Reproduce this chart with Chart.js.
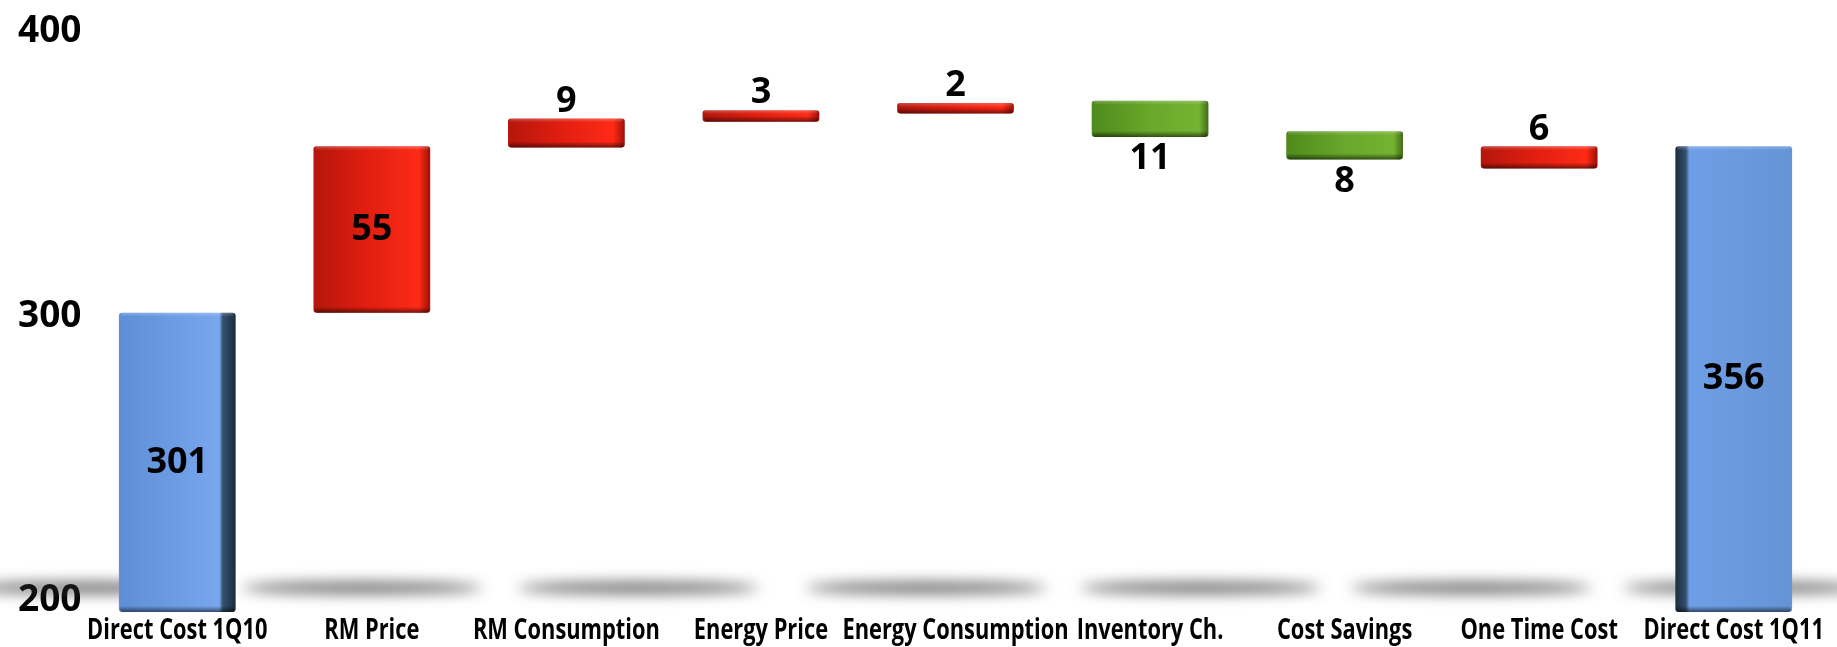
<!DOCTYPE html>
<html>
<head>
<meta charset="utf-8">
<script src="https://cdn.jsdelivr.net/npm/chart.js@4.4.1/dist/chart.umd.min.js"></script>
<style>
  html, body { margin: 0; padding: 0; background: #ffffff; }
  #wrap { width: 1837px; height: 647px; position: relative; }
</style>
</head>
<body>
<div id="wrap"><canvas id="waterfall"></canvas></div>
<script>
// Categorias e valores do gráfico em cascata
const categories = ['Direct Cost 1Q10', 'RM Price', 'RM Consumption', 'Energy Price', 'Energy Consumption', 'Inventory Ch.', 'Cost Savings', 'One Time Cost', 'Direct Cost 1Q11'];
const barStart = [196, 301.2, 359.3, 368.3, 371.2, 363.0, 355.1, 351.9, 196];
const barEnd = [301.2, 359.7, 369.5, 372.4, 374.9, 375.7, 365.0, 359.7, 359.7];
const valueLabels = ['301', '55', '9', '3', '2', '11', '8', '6', '356'];
const barKinds = ['total', 'up', 'up', 'up', 'up', 'down', 'down', 'up', 'total'];
const yTicks = [200, 300, 400];

// Sombras decorativas junto à base (em unidades de categoria)
const SHADOW_CENTERS = [-0.45, 0.95, 2.37, 3.85, 5.26, 6.65, 8.05];

const CAT_FONT = 'bold 28px "Open Sans", "Liberation Sans", sans-serif';
const CAT_SQUEEZE = 0.78; // as etiquetas do original são estreitas
const NUM_FONT = 'bold 36px "Open Sans", "Liberation Sans", sans-serif';

function barGradient(context) {
    const chart = context.chart;
    const i = context.dataIndex;
    const xs = chart.scales.x;
    if (!chart.chartArea || !xs) return '#6a9be0';
    const cx = xs.getPixelForValue(i);
    const half = (xs.width / categories.length) * 0.6 / 2;
    const g = chart.ctx.createLinearGradient(cx - half, 0, cx + half, 0);
    const kind = barKinds[i];
    if (kind === 'total') {
        if (i === 0) {
            g.addColorStop(0, '#5d8ed6');
            g.addColorStop(0.86, '#78a7ee');
            g.addColorStop(0.89, '#34506f');
            g.addColorStop(1, '#1d2b3d');
        } else {
            g.addColorStop(0, '#1d2b3d');
            g.addColorStop(0.09, '#34506f');
            g.addColorStop(0.12, '#6e9fe6');
            g.addColorStop(1, '#6593d6');
        }
    } else if (kind === 'up') {
        g.addColorStop(0, '#b5160c');
        g.addColorStop(0.45, '#e01e10');
        g.addColorStop(0.9, '#ff2a16');
        g.addColorStop(1, '#9c1008');
    } else {
        g.addColorStop(0, '#4f8a1c');
        g.addColorStop(0.5, '#68a82a');
        g.addColorStop(0.92, '#74b232');
        g.addColorStop(1, '#3f6a16');
    }
    return g;
}

const shadowPlugin = {
    id: 'groundShadow',
    beforeDatasetsDraw(chart) {
        const { ctx } = chart;
        const xs = chart.scales.x;
        const ys = chart.scales.y;
        const step = xs.width / categories.length;
        const y = ys.getPixelForValue(204.5);
        ctx.save();
        ctx.filter = 'blur(7px)';
        ctx.fillStyle = 'rgba(50,50,50,0.7)';
        SHADOW_CENTERS.forEach(c => {
            const x = xs.left + (c + 0.5) * step;
            ctx.beginPath();
            ctx.ellipse(x, y, step * 0.62, 6, 0, 0, Math.PI * 2);
            ctx.fill();
        });
        ctx.restore();
    }
};

const bevelAndLabels = {
    id: 'bevelAndLabels',
    afterDatasetsDraw(chart) {
        const { ctx } = chart;
        const meta = chart.getDatasetMeta(0);
        meta.data.forEach((bar, i) => {
            const top = Math.min(bar.y, bar.base);
            const bottom = Math.max(bar.y, bar.base);
            const left = bar.x - bar.width / 2;
            // borda inferior escura (efeito 3D)
            ctx.save();
            const g = ctx.createLinearGradient(0, bottom - 6, 0, bottom);
            g.addColorStop(0, 'rgba(0,0,0,0)');
            g.addColorStop(1, 'rgba(0,0,0,0.55)');
            ctx.fillStyle = g;
            ctx.beginPath();
            ctx.roundRect(left + 1, Math.max(top, bottom - 6), bar.width - 2, Math.min(6, bottom - top), 3);
            ctx.fill();
            // brilho superior
            const h = ctx.createLinearGradient(0, top, 0, top + 4);
            h.addColorStop(0, 'rgba(255,255,255,0.25)');
            h.addColorStop(1, 'rgba(255,255,255,0)');
            ctx.fillStyle = h;
            ctx.fillRect(left + 2, top, bar.width - 4, Math.min(4, bottom - top));
            ctx.restore();

            // rótulos de valor
            ctx.save();
            ctx.font = NUM_FONT;
            ctx.fillStyle = '#000';
            ctx.textAlign = 'center';
            ctx.textBaseline = 'middle';
            let ly;
            if (bottom - top > 60) {
                ly = (top + bottom) / 2;
            } else if (barKinds[i] === 'down') {
                ly = bottom + 22;
            } else {
                ly = top - 17;
            }
            ctx.fillText(valueLabels[i], bar.x, ly);
            ctx.restore();
        });

        // etiquetas das categorias (fonte comprimida na horizontal)
        const xs = chart.scales.x;
        ctx.save();
        ctx.font = CAT_FONT;
        ctx.fillStyle = '#000';
        ctx.textAlign = 'center';
        ctx.textBaseline = 'middle';
        categories.forEach((c, i) => {
            const x = xs.getPixelForValue(i);
            ctx.save();
            ctx.translate(x, xs.top + 19);
            ctx.scale(CAT_SQUEEZE, 1);
            ctx.fillText(c, 0, 0);
            ctx.restore();
        });
        ctx.restore();
    }
};

const ctx = document.getElementById('waterfall').getContext('2d');
new Chart(ctx, {
    type: 'bar',
    data: {
        labels: categories,
        datasets: [{
            data: categories.map((c, i) => [barStart[i], barEnd[i]]),
            backgroundColor: barGradient,
            borderRadius: 3,
            borderSkipped: false,
            barPercentage: 0.6,
            categoryPercentage: 1
        }]
    },
    options: {
        responsive: true,
        maintainAspectRatio: false,
        animation: false,
        layout: { padding: { left: 18, right: 6, top: 26, bottom: 0 } },
        plugins: {
            legend: { display: false },
            tooltip: { enabled: false },
            title: { display: false }
        },
        scales: {
            x: {
                grid: { display: false, drawTicks: false },
                border: { display: false },
                ticks: { display: false },
                afterFit(scale) { scale.height = 35; }
            },
            y: {
                min: 196,
                max: 402,
                grid: { display: false, drawTicks: false },
                border: { display: false },
                afterBuildTicks(scale) { scale.ticks = yTicks.map(v => ({ value: v })); },
                ticks: {
                    color: '#000',
                    crossAlign: 'far',
                    padding: 0,
                    font: { family: '"Open Sans", "Liberation Sans", sans-serif', size: 37, weight: 'bold' }
                },
                afterFit(scale) { scale.width = 62; }
            }
        }
    },
    plugins: [shadowPlugin, bevelAndLabels]
});
</script>
</body>
</html>
